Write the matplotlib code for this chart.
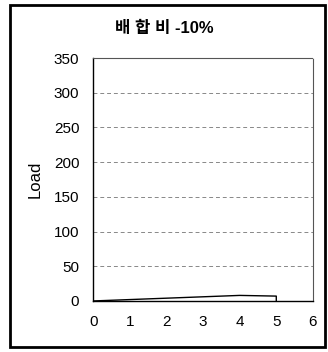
import matplotlib.pyplot as plt
from matplotlib.patches import Rectangle

plt.rcParams['font.family'] = ['Liberation Sans', 'Noto Sans CJK KR']

# load curve (loading up to x=5 then dropping back)
disp = [0, 1, 2, 3, 4, 5, 5]
load = [0, 2, 4, 6, 8, 7, 0]
yticks = [0, 50, 100, 150, 200, 250, 300, 350]
xticks = [0, 1, 2, 3, 4, 5, 6]

fig = plt.figure(figsize=(3.28, 3.52), dpi=100)
ax = fig.add_axes([0.284, 0.145, 0.67, 0.69])

ax.plot(disp, load, color='black', linewidth=1.0)

ax.set_xlim(0, 6)
ax.set_ylim(0, 350)
ax.set_xticks(xticks)
ax.set_yticks(yticks)
ax.tick_params(labelsize=11, length=0, pad=10)
ax.yaxis.grid(True, color='#888888', linestyle=(0, (4, 3)), linewidth=0.7)

for side in ['top', 'right']:
    ax.spines[side].set_linestyle((0, (2, 1)))
    ax.spines[side].set_color('#555555')
    ax.spines[side].set_linewidth(0.8)
for side in ['left', 'bottom']:
    ax.spines[side].set_linewidth(1.0)

ax.set_ylabel('Load', fontsize=12, labelpad=8)
fig.text(0.5, 0.92, '배 합 비 -10%', ha='center', va='center', fontsize=12, fontweight='semibold')

# outer frame around the whole chart
fig.patches.append(Rectangle((0.03, 0.015), 0.96, 0.97, transform=fig.transFigure,
                             fill=False, edgecolor='black', linewidth=2))

fig.savefig('out.png', dpi=100)
